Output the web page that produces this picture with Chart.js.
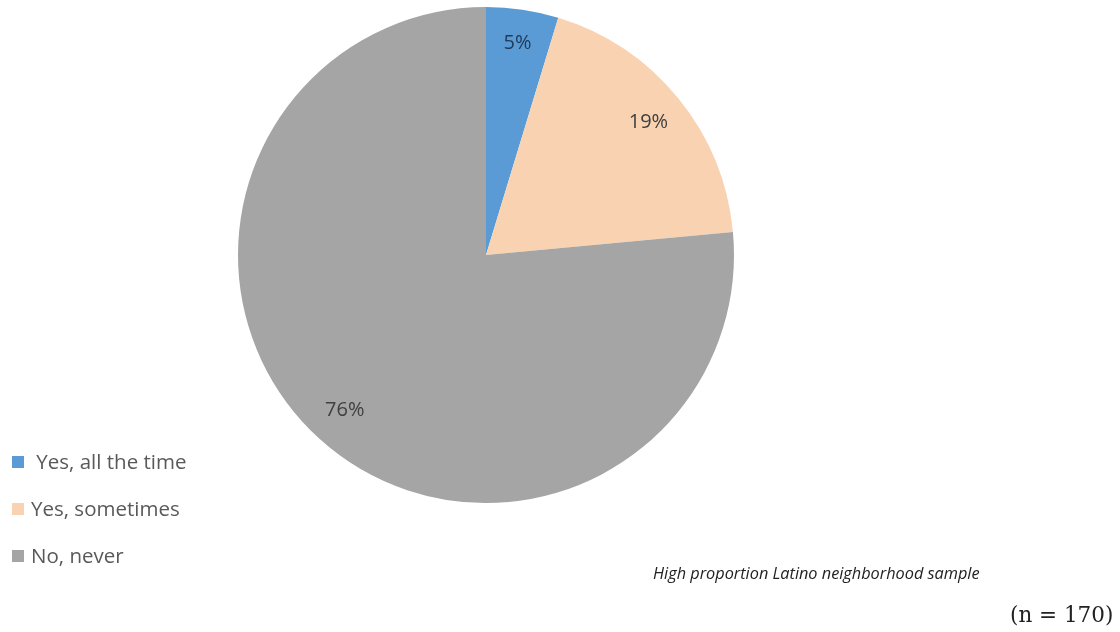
<!DOCTYPE html>
<html>
<head>
<meta charset="utf-8">
<script src="https://cdn.jsdelivr.net/npm/chart.js@4/dist/chart.umd.min.js"></script>
<style>
  html, body { margin: 0; padding: 0; background: #ffffff; }
  #wrap { position: relative; width: 1120px; height: 632px; overflow: hidden; }
  canvas { position: absolute; left: 0; top: 0; }
  #legend { position: absolute; left: 12px; top: 446px; font-family: "Open Sans", "Noto Sans", sans-serif; font-size: 20.5px; color: #595959; }
  .item { position: relative; height: 47px; line-height: 30px; }
  .sw { display: inline-block; width: 12px; height: 12px; margin-right: 7px; vertical-align: middle; position: relative; top: -2px; }
  #note { position: absolute; left: 653px; top: 562px; font-family: "Open Sans", "Noto Sans", sans-serif; font-style: italic; font-size: 16.3px; color: #222; }
  #n { position: absolute; left: 1010px; top: 602px; font-family: "DejaVu Serif", "Liberation Serif", serif; font-size: 21.5px; color: #222; }
</style>
</head>
<body>
<div id="wrap">
  <canvas id="c" width="1120" height="632"></canvas>
  <div id="legend"></div>
  <div id="note">High proportion Latino neighborhood sample</div>
  <div id="n">(n = 170)</div>
</div>
<script>
const categories = ["Yes, all the time", "Yes, sometimes", "No, never"];
const counts = [8, 32, 130];
const percentLabels = ["5%", "19%", "76%"];
const colors = ["#5b9bd5", "#f9d3b1", "#a5a5a5"];

const legendEl = document.getElementById('legend');
categories.forEach((c, i) => {
  const d = document.createElement('div');
  d.className = 'item';
  d.innerHTML = '<span class="sw" style="background:' + colors[i] + '"></span>' + (i === 0 ? '&nbsp;' : '') + c;
  legendEl.appendChild(d);
});

const labelPlugin = {
  id: 'sliceLabels',
  afterDatasetsDraw(chart) {
    const ctx = chart.ctx;
    const meta = chart.getDatasetMeta(0);
    ctx.save();
    ctx.font = '20px "Open Sans", "Noto Sans", sans-serif';
    ctx.textAlign = 'center';
    ctx.textBaseline = 'middle';
    meta.data.forEach((arc, i) => {
      const p = arc.getProps(['startAngle', 'endAngle', 'outerRadius', 'x', 'y'], true);
      const mid = (p.startAngle + p.endAngle) / 2;
      const r = p.outerRadius * (i === 0 ? 0.865 : 0.845);
      ctx.fillStyle = i === 0 ? '#1f3a5a' : '#404040';
      ctx.fillText(percentLabels[i], p.x + Math.cos(mid) * r, p.y + Math.sin(mid) * r);
    });
    ctx.restore();
  }
};

new Chart(document.getElementById('c'), {
  type: 'pie',
  data: {
    labels: categories,
    datasets: [{
      data: counts,
      backgroundColor: colors,
      borderWidth: 0
    }]
  },
  options: {
    responsive: false,
    animation: false,
    layout: { padding: { top: 7, bottom: 129, left: 0, right: 148 } },
    plugins: {
      legend: { display: false },
      tooltip: { enabled: false }
    }
  },
  plugins: [labelPlugin]
});
</script>
</body>
</html>
